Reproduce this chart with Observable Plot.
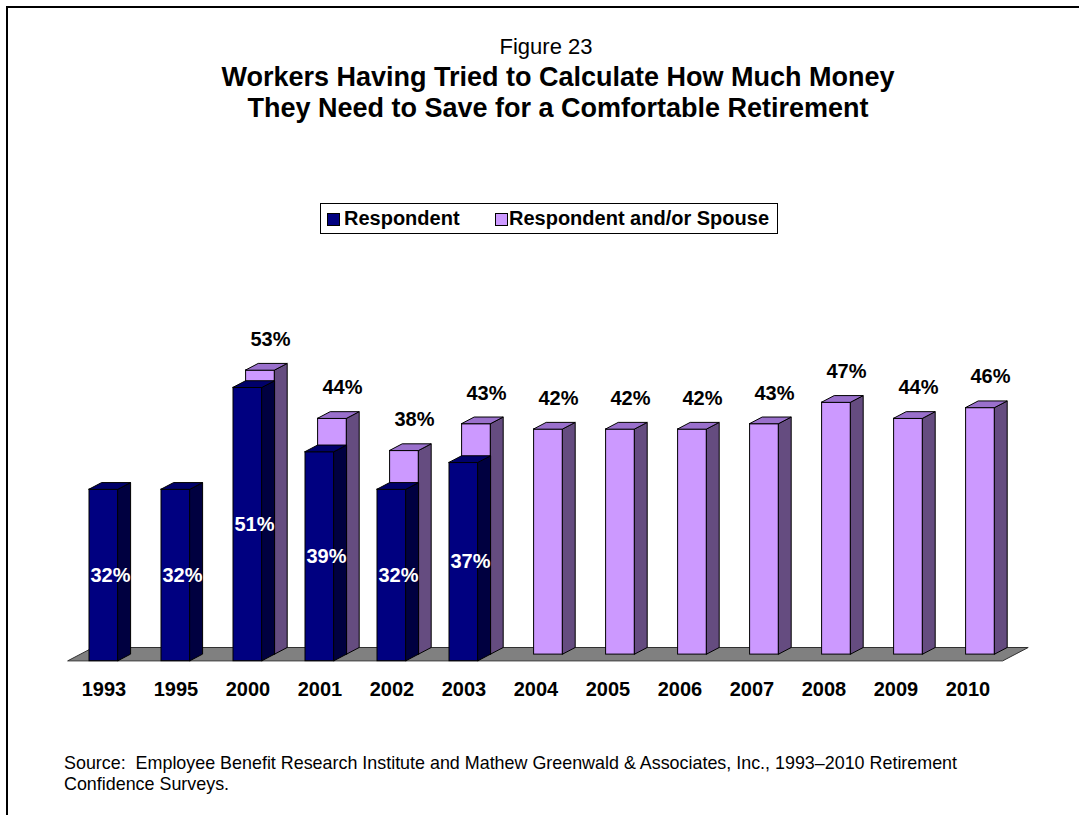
<!DOCTYPE html>
<html>
<head>
<meta charset="utf-8">
<script src="https://cdn.jsdelivr.net/npm/d3@7"></script>
<script src="https://cdn.jsdelivr.net/npm/@observablehq/plot@0.6"></script>
<style>
  html, body { margin: 0; padding: 0; background: #fff; }
  body { width: 1079px; height: 815px; overflow: hidden; position: relative; font-family: "Liberation Sans", Arial, sans-serif; color: #000; }
  .frame { position: absolute; left: 6px; top: 6px; width: 1100px; height: 900px; border-top: 2px solid #000; border-left: 2px solid #000; }
  .t { position: absolute; white-space: nowrap; text-align: center; left: 0; }
  #fig { width: 1092px; top: 33px; line-height: 28px; font-size: 22px; }
  #l1 { width: 1116px; top: 62px; line-height: 30px; font-size: 27px; font-weight: bold; }
  #l2 { width: 1116px; top: 93px; line-height: 30px; font-size: 27px; font-weight: bold; }
  #legend { position: absolute; left: 320px; top: 203px; width: 458px; height: 31px; border: 1px solid #000; box-sizing: border-box; font-size: 20px; font-weight: bold; }
  .li { position: absolute; top: 0; line-height: 29px; white-space: nowrap; }
  .sw { position: absolute; top: 9px; width: 11px; height: 11px; border: 1px solid #000; }
  #chart { position: absolute; left: 0; top: 280px; }
  #source { position: absolute; left: 64px; top: 753px; font-size: 17.9px; line-height: 21px; white-space: nowrap; }
</style>
</head>
<body>
<div class="frame"></div>
<div class="t" id="fig">Figure 23</div>
<div class="t" id="l1">Workers Having Tried to Calculate How Much Money</div>
<div class="t" id="l2">They Need to Save for a Comfortable Retirement</div>
<div id="legend"></div>
<div id="chart"></div>
<div id="source">Source:&nbsp; Employee Benefit Research Institute and Mathew Greenwald &amp; Associates, Inc., 1993–2010 Retirement<br>Confidence Surveys.</div>
<script>
// ---- data ----
const years = ["1993","1995","2000","2001","2002","2003","2004","2005","2006","2007","2008","2009","2010"];
const respondent = [32, 32, 51, 39, 32, 37, null, null, null, null, null, null, null];
const respondentSpouse = [null, null, 53, 44, 38, 43, 42, 42, 42, 43, 47, 44, 46];
const seriesNames = ["Respondent", "Respondent and/or Spouse"];

// ---- styling / layout constants (pixels) ----
const colors = [
  {front: "#000080", side: "#000040", top: "#00006a"},
  {front: "#cc99ff", side: "#654c80", top: "#9a70cc"}
];
const SLOT = 72, PX_PER_PCT = 5.36, BAR_W = 29, DX = 12.6, DY = 6.6;
const W = 1079, H = 440, BASE = 380.7, LEFT0 = 89;
const ux = px => px / SLOT, uy = px => px / PX_PER_PCT;

// legend
const leg = document.getElementById("legend");
[[6, 23], [174, 188]].forEach(([sx, tx], r) => {
  const s = document.createElement("div");
  s.className = "sw"; s.style.left = sx + "px"; s.style.background = colors[r].front;
  leg.appendChild(s);
  const t = document.createElement("div");
  t.className = "li"; t.style.left = tx + "px"; t.textContent = seriesNames[r];
  leg.appendChild(t);
});

// ---- build tables from the arrays ----
const bars = [];
[respondent, respondentSpouse].forEach((vals, r) => {
  vals.forEach((v, i) => {
    if (v == null) return;
    bars.push({id: r + "-" + i, i, v, r, ox: r * DX, oy: r * DY, year: years[i]});
  });
});
bars.sort((a, b) => b.r - a.r || a.i - b.i);

const sides = bars.flatMap(b => [
  {id: b.id, r: b.r, x: b.i + ux(b.ox + BAR_W), y1: uy(b.oy), y2: b.v + uy(b.oy)},
  {id: b.id, r: b.r, x: b.i + ux(b.ox + BAR_W + DX), y1: uy(b.oy + DY), y2: b.v + uy(b.oy + DY)}
]);
const tops = bars.flatMap(b => [
  {id: b.id, r: b.r, y: b.v + uy(b.oy), x1: b.i + ux(b.ox), x2: b.i + ux(b.ox + BAR_W)},
  {id: b.id, r: b.r, y: b.v + uy(b.oy + DY), x1: b.i + ux(b.ox + DX), x2: b.i + ux(b.ox + BAR_W + DX)}
]);
const last = years.length - 1;
const floor = [
  {y: 0, x1: ux(-21), x2: last + ux(50)},
  {y: uy(2 * DY), x1: ux(-21 + 2 * DX), x2: last + ux(50 + 2 * DX)}
];

const marks = [
  Plot.areaX(floor, {y: "y", x1: "x1", x2: "x2", fill: "#808080", stroke: "#303030", strokeWidth: 1}),
];
for (const r of [1, 0]) {
  const c = colors[r];
  marks.push(
    Plot.rect(bars.filter(b => b.r === r), {
      x1: b => b.i + ux(b.ox), x2: b => b.i + ux(b.ox + BAR_W),
      y1: b => uy(b.oy), y2: b => b.v + uy(b.oy),
      fill: c.front, stroke: "#000", strokeWidth: 1
    }),
    Plot.areaY(sides.filter(d => d.r === r), {x: "x", y1: "y1", y2: "y2", z: "id", fill: c.side, stroke: "#000", strokeWidth: 1}),
    Plot.areaX(tops.filter(d => d.r === r), {y: "y", x1: "x1", x2: "x2", z: "id", fill: c.top, stroke: "#000", strokeWidth: 1})
  );
}
const font = {fontFamily: "Liberation Sans, Arial, sans-serif", fontWeight: "bold", fontSize: 20};
marks.push(
  Plot.text(bars.filter(b => b.r === 0), {x: b => b.i + ux(21), y: b => b.v / 2, text: b => b.v + "%", fill: "#fff", ...font}),
  Plot.text(bars.filter(b => b.r === 1), {x: b => b.i + ux(37), y: b => b.v + uy(b.oy), dy: -31, text: b => b.v + "%", fill: "#000", ...font}),
  Plot.text(years, {x: (d, i) => i + ux(14.5), y: () => 0, dy: 28, text: d => d, fill: "#000", ...font})
);

const chart = Plot.plot({
  width: W, height: H,
  marginLeft: 0, marginRight: 0, marginTop: 0, marginBottom: 0,
  x: {type: "linear", axis: null, domain: [0, last], range: [LEFT0, LEFT0 + SLOT * last]},
  y: {type: "linear", axis: null, domain: [0, 50], range: [BASE, BASE - 50 * PX_PER_PCT]},
  style: {background: "transparent", fontFamily: "Liberation Sans, Arial, sans-serif"},
  marks
});
document.getElementById("chart").appendChild(chart);
</script>
</body>
</html>
